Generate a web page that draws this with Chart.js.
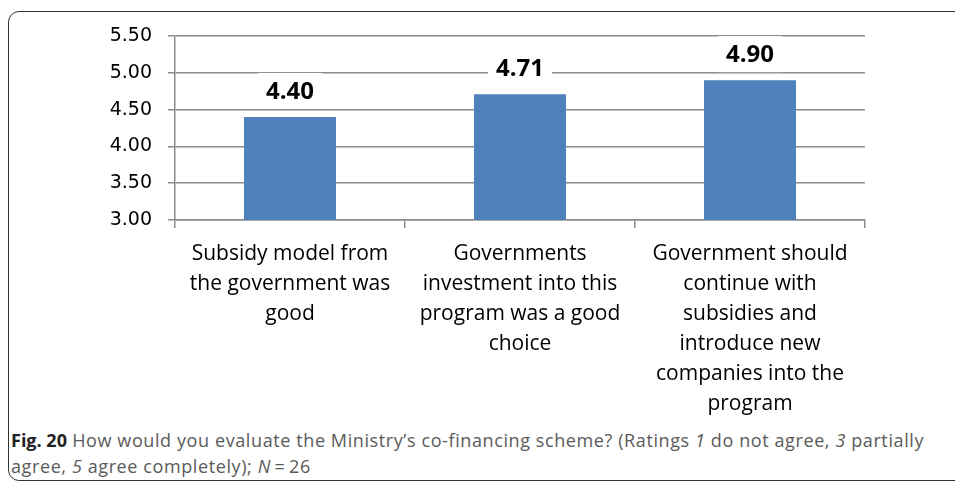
<!DOCTYPE html>
<html>
<head>
<meta charset="utf-8">
<script src="https://cdn.jsdelivr.net/npm/chart.js@4"></script>
<style>
  html, body { margin: 0; padding: 0; background: #fff; width: 955px; height: 483px; overflow: hidden; }
  #frame {
    position: absolute; left: 8px; top: 11px; width: 980px; height: 470px;
    border: 1.5px solid #333; border-radius: 11px; box-sizing: border-box;
  }
  #wrap { position: absolute; left: 0; top: 0; width: 955px; height: 420px; }
  #caption {
    position: absolute; left: 11px; top: 427px; width: 944px; white-space: nowrap;
    font-family: "Open Sans", sans-serif; font-size: 18px; letter-spacing: 0.6px;
    line-height: 26px; color: #5a5a5a;
  }
  #caption b { color: #222; letter-spacing: 0; }
</style>
</head>
<body>
<div id="frame"></div>
<div id="wrap"><canvas id="chart" width="955" height="420"></canvas></div>
<div id="caption"><b>Fig. 20</b> How would you evaluate the Ministry’s co-financing scheme? (Ratings <i>1</i> do not agree, <i>3</i> partially<br>agree, <i>5</i> agree completely); <i>N</i>&#8201;=&#8201;26</div>
<script>
const categories = [
  ["Subsidy model from", "the government was", "good"],
  ["Governments", "investment into this", "program was a good", "choice"],
  ["Government should", "continue with", "subsidies and", "introduce new", "companies into the", "program"],
];
const ratings = [4.40, 4.71, 4.90];
const yTicks = [3.0, 3.5, 4.0, 4.5, 5.0, 5.5];

// labels on white boxes above each bar
const valueLabels = {
  id: "valueLabels",
  afterDatasetsDraw(chart) {
    const ctx = chart.ctx;
    const meta = chart.getDatasetMeta(0);
    ctx.save();
    ctx.font = "bold 24px 'Open Sans', sans-serif";
    ctx.textAlign = "center";
    ctx.textBaseline = "middle";
    meta.data.forEach((bar, i) => {
      const cy = bar.y - 26;
      ctx.fillStyle = "#fff";
      ctx.fillRect(bar.x - 32, cy - 18, 64, 36);
      ctx.fillStyle = "#000";
      ctx.fillText(ratings[i].toFixed(2), bar.x, cy + 1);
    });
    ctx.restore();
  },
};

new Chart(document.getElementById("chart").getContext("2d"), {
  type: "bar",
  data: {
    labels: categories,
    datasets: [{
      data: ratings,
      backgroundColor: "#4f81bd",
      barPercentage: 0.4,
      categoryPercentage: 1,
    }],
  },
  plugins: [valueLabels],
  options: {
    responsive: false,
    animation: false,
    layout: { padding: { left: 0, right: 90, top: 36, bottom: 0 } },
    plugins: { legend: { display: false }, tooltip: { enabled: false } },
    scales: {
      x: {
        afterFit: (s) => { s.height = 200; },
        grid: { drawOnChartArea: false, color: "#8c8c8c", lineWidth: 1.5, tickLength: 8 },
        border: { color: "#8c8c8c", width: 1.5 },
        ticks: { color: "#000", padding: 11, maxRotation: 0, autoSkip: false,
          font: { family: "'Open Sans', sans-serif", size: 21, lineHeight: 1.43 } },
      },
      y: {
        min: 3, max: 5.5,
        afterFit: (s) => { s.width = 175; },
        afterBuildTicks: (s) => { s.ticks = yTicks.map((v) => ({ value: v })); },
        grid: { color: "#8c8c8c", lineWidth: 1.5, tickLength: 7 },
        border: { color: "#8c8c8c", width: 1.5 },
        ticks: { color: "#000", padding: 16, callback: (v) => v.toFixed(2),
          font: { family: "'DejaVu Sans', sans-serif", size: 19 } },
      },
    },
  },
});
</script>
</body>
</html>
